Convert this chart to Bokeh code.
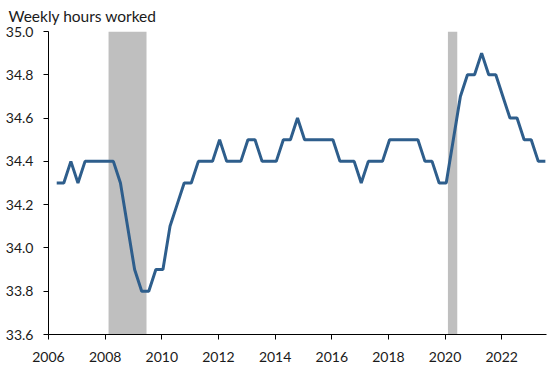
from bokeh.plotting import figure
from bokeh.models import ColumnDataSource, Range1d, FixedTicker, NumeralTickFormatter
from bokeh.embed import file_html
from bokeh.resources import INLINE

# Quarterly average weekly hours, 2006Q2 - 2023Q3
start_year, start_q = 2006, 2
hours = [
    34.3, 34.3, 34.4,                    # 2006 Q2-Q4
    34.3, 34.4, 34.4, 34.4,              # 2007
    34.4, 34.4, 34.3, 34.1,              # 2008
    33.9, 33.8, 33.8, 33.9,              # 2009
    33.9, 34.1, 34.2, 34.3,              # 2010
    34.3, 34.4, 34.4, 34.4,              # 2011
    34.5, 34.4, 34.4, 34.4,              # 2012
    34.5, 34.5, 34.4, 34.4,              # 2013
    34.4, 34.5, 34.5, 34.6,              # 2014
    34.5, 34.5, 34.5, 34.5,              # 2015
    34.5, 34.4, 34.4, 34.4,              # 2016
    34.3, 34.4, 34.4, 34.4,              # 2017
    34.5, 34.5, 34.5, 34.5,              # 2018
    34.5, 34.4, 34.4, 34.3,              # 2019
    34.3, 34.5, 34.7, 34.8,              # 2020
    34.8, 34.9, 34.8, 34.8,              # 2021
    34.7, 34.6, 34.6, 34.5,              # 2022
    34.5, 34.4, 34.4,                    # 2023 Q1-Q3
]
rec_start = [2008.12, 2020.10]
rec_end = [2009.46, 2020.43]
x_ticks = [2006, 2008, 2010, 2012, 2014, 2016, 2018, 2020, 2022]
y_ticks = [33.6, 33.8, 34.0, 34.2, 34.4, 34.6, 34.8, 35.0]

xs = []
for i in range(len(hours)):
    k = (start_q - 1) + i
    xs.append(start_year + k // 4 + (k % 4) / 4 + 0.04)

src = ColumnDataSource(dict(x=xs, y=hours))
rec = ColumnDataSource(dict(left=rec_start, right=rec_end))

p = figure(width=551, height=365, output_backend="svg", toolbar_location=None,
           x_range=Range1d(2006, 2023.58), y_range=Range1d(33.6, 35.0),
           min_border_left=48, min_border_right=5, min_border_top=31, min_border_bottom=31,
           title="Weekly hours worked")
p.title.text_font = "Lato"
p.title.text_font_size = "15.5px"
p.title.text_font_style = "normal"
p.title.text_color = "#1a1a1a"
p.title.align = "left"
p.title.vertical_align = "top"
p.title.offset = -40
p.title.standoff = 10

p.quad(left="left", right="right", bottom=33.6, top=35.0, source=rec,
       fill_color="#bfbfbf", line_color=None)
p.line("x", "y", source=src, line_color="#2e5e8c", line_width=3)

p.outline_line_color = None
p.xgrid.visible = False
p.ygrid.visible = False

for ax in (p.xaxis[0], p.yaxis[0]):
    ax.axis_line_color = "black"
    ax.major_tick_line_color = "black"
    ax.major_tick_out = 5
    ax.major_tick_in = 0
    ax.minor_tick_line_color = None
    ax.major_label_text_font = "Lato"
    ax.major_label_text_font_size = "14px"
    ax.major_label_text_color = "#1a1a1a"

p.xaxis.ticker = FixedTicker(ticks=x_ticks)
p.yaxis.ticker = FixedTicker(ticks=y_ticks)
p.yaxis.formatter = NumeralTickFormatter(format="0.0")
p.yaxis.major_label_standoff = 10
p.xaxis.major_label_standoff = 12

open("out.html", "w").write(file_html(p, INLINE))
